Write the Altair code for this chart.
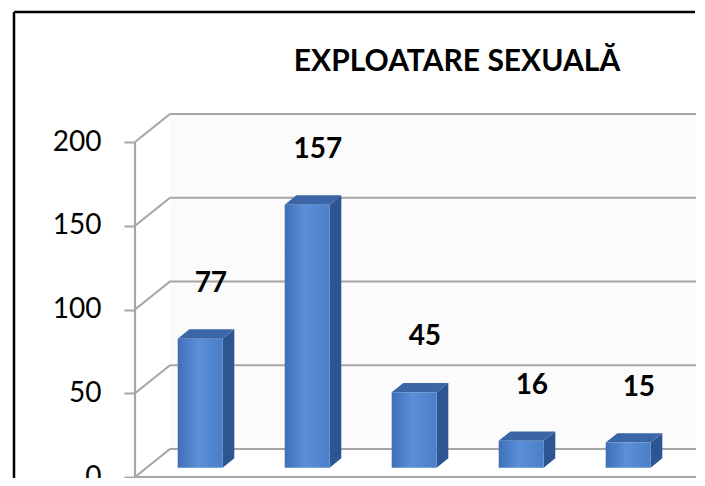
import altair as alt
import pandas as pd

# ---- data ----
categories = ["1", "2", "3", "4", "5"]
values = [77, 157, 45, 16, 15]
y_ticks = [0, 50, 100, 150, 200]
title_text = "EXPLOATARE SEXUALĂ"

# ---- geometry / style constants ----
W, H = 562, 470            # plot area (px)
PAD_LEFT = 127
CAT_PX = 107.0             # width of one category in px
X_MAX = W / CAT_PX
PX_PER_UNIT = 1.675        # px per value unit
Y_MIN = -1 / PX_PER_UNIT
Y_MAX = 469 / PX_PER_UNIT
DX = 35 / CAT_PX           # depth offset (x units)
DY = 28 / PX_PER_UNIT      # depth offset (value units)
HALF_W = 0.21
F1, F2 = 1 / 3, 2 / 3
FONT = "Lato"
GRID = "#a6a6a6"
X_END = 561 / CAT_PX

xs = alt.Scale(domain=[0, X_MAX], nice=False, zero=False)
ys = alt.Scale(domain=[Y_MIN, Y_MAX], nice=False, zero=False)
y_axis = alt.Axis(values=y_ticks, domain=False, grid=False, tickSize=11,
                  tickColor=GRID, tickWidth=2, labelFontSize=28, labelFont=FONT,
                  labelColor="black", labelPadding=23, title=None)

def X(f):
    return alt.X(f, type="quantitative", scale=xs, axis=None)

def Y(f):
    return alt.Y(f, type="quantitative", scale=ys, axis=y_axis)

# back wall
wall = pd.DataFrame([{"x": DX, "x2": X_END, "y": DY, "y2": 200 + DY}])
wall_l = alt.Chart(wall).mark_rect(color="#fbfbfb").encode(
    x=X("x"), x2="x2", y=Y("y"), y2="y2")

# gridlines (diagonal + back horizontal)
grid_rows = []
for v in y_ticks:
    grid_rows += [{"g": v, "o": 0, "x": 0, "y": v},
                  {"g": v, "o": 1, "x": DX, "y": v + DY},
                  {"g": v, "o": 2, "x": X_END, "y": v + DY}]
grid_l = alt.Chart(pd.DataFrame(grid_rows)).mark_line(
    color=GRID, strokeWidth=2.2).encode(
    x=X("x"), y=Y("y"), detail="g:N", order="o:Q")

axes_df = pd.DataFrame([{"x": 0, "x2": 0, "y": 0, "y2": 200},
                        {"x": 0, "x2": X_END, "y": 0, "y2": 0}])
axes_l = alt.Chart(axes_df).mark_rule(color=GRID, strokeWidth=2.2).encode(
    x=X("x"), x2="x2", y=Y("y"), y2="y2")

ticks_df = pd.DataFrame({"x": list(range(len(categories) + 1)),
                         "y": 0, "y2": -6})
ticks_l = alt.Chart(ticks_df).mark_rule(color=GRID, strokeWidth=2).encode(
    x=X("x"), y=Y("y"), y2="y2")

# bars
front_rows, side_rows, top_rows, lab_rows = [], [], [], []
for i, (c, v) in enumerate(zip(categories, values)):
    cx = i + 0.5
    x1 = cx - HALF_W + F1 * DX
    x2 = cx + HALF_W + F1 * DX
    front_rows.append({"cat": c, "x": x1, "x2": x2, "y": F1 * DY, "y2": v + F1 * DY})
    side_rows += [{"cat": c, "x": x2, "lo": F1 * DY, "hi": v + F1 * DY},
                  {"cat": c, "x": x2 + (F2 - F1) * DX, "lo": F2 * DY, "hi": v + F2 * DY}]
    b, t = v + F1 * DY, v + F2 * DY
    d = (F2 - F1) * DX
    top_rows += [{"cat": c, "x": x1, "lo": b, "hi": b},
                 {"cat": c, "x": x1 + d, "lo": b, "hi": t},
                 {"cat": c, "x": x2, "lo": b, "hi": t},
                 {"cat": c, "x": x2 + d, "lo": t, "hi": t}]
    lab_rows.append({"cat": c, "x": cx + F1 * DX + 0.1, "y": v + F1 * DY, "label": str(v)})

front_grad = alt.Gradient(gradient="linear", x1=0, x2=1, y1=0, y2=0,
                          stops=[alt.GradientStop(color="#3f6fb6", offset=0),
                                 alt.GradientStop(color="#5a8fd9", offset=0.45),
                                 alt.GradientStop(color="#4a7fc8", offset=1)])
front_l = alt.Chart(pd.DataFrame(front_rows)).mark_rect(color=front_grad).encode(
    x=X("x"), x2="x2", y=Y("y"), y2="y2")
side_l = alt.Chart(pd.DataFrame(side_rows)).mark_area(
    color="#2c5592", interpolate="linear").encode(
    x=X("x"), y=Y("hi"), y2="lo", detail="cat:N")
top_l = alt.Chart(pd.DataFrame(top_rows)).mark_area(
    color="#3a66a6", interpolate="linear").encode(
    x=X("x"), y=Y("hi"), y2="lo", detail="cat:N")

labels_l = alt.Chart(pd.DataFrame(lab_rows)).mark_text(
    font=FONT, fontSize=28, fontWeight="bold", color="black", dy=-55,
    baseline="middle", align="center").encode(
    x=X("x"), y=Y("y"), text="label:N")

# title and frame (decoration)
title_l = alt.Chart(pd.DataFrame({"t": [title_text]})).mark_text(
    font=FONT, fontSize=30, fontWeight="bold", color="black",
    align="center", baseline="middle").encode(
    x=alt.value(322), y=alt.value(54), text="t:N")
cover = alt.Chart(pd.DataFrame({"c": [0]})).mark_rect(
    color="white", strokeWidth=0).encode(
    x=alt.value(W - 6), x2=alt.value(W + 4), y=alt.value(-2), y2=alt.value(104))
frame_left = alt.Chart(pd.DataFrame({"b": [0]})).mark_rule(
    color="black", strokeWidth=2.5).encode(
    x=alt.value(-121), x2=alt.value(-121), y=alt.value(4), y2=alt.value(H + 20))
frame_top = alt.Chart(pd.DataFrame({"a": [0]})).mark_rule(
    color="black", strokeWidth=2.5).encode(
    x=alt.value(-121), x2=alt.value(W - 2), y=alt.value(4), y2=alt.value(4))

chart = alt.layer(
    wall_l, grid_l, axes_l, ticks_l, side_l, top_l, front_l, labels_l,
    title_l, cover, frame_left, frame_top
).properties(
    width=W, height=H, autosize="none",
    padding={"left": PAD_LEFT, "top": 0, "right": 0, "bottom": 0},
    background="white"
).configure_view(stroke=None, strokeWidth=0)

chart.save("out.html", embed_options={"renderer": "svg", "actions": False})
